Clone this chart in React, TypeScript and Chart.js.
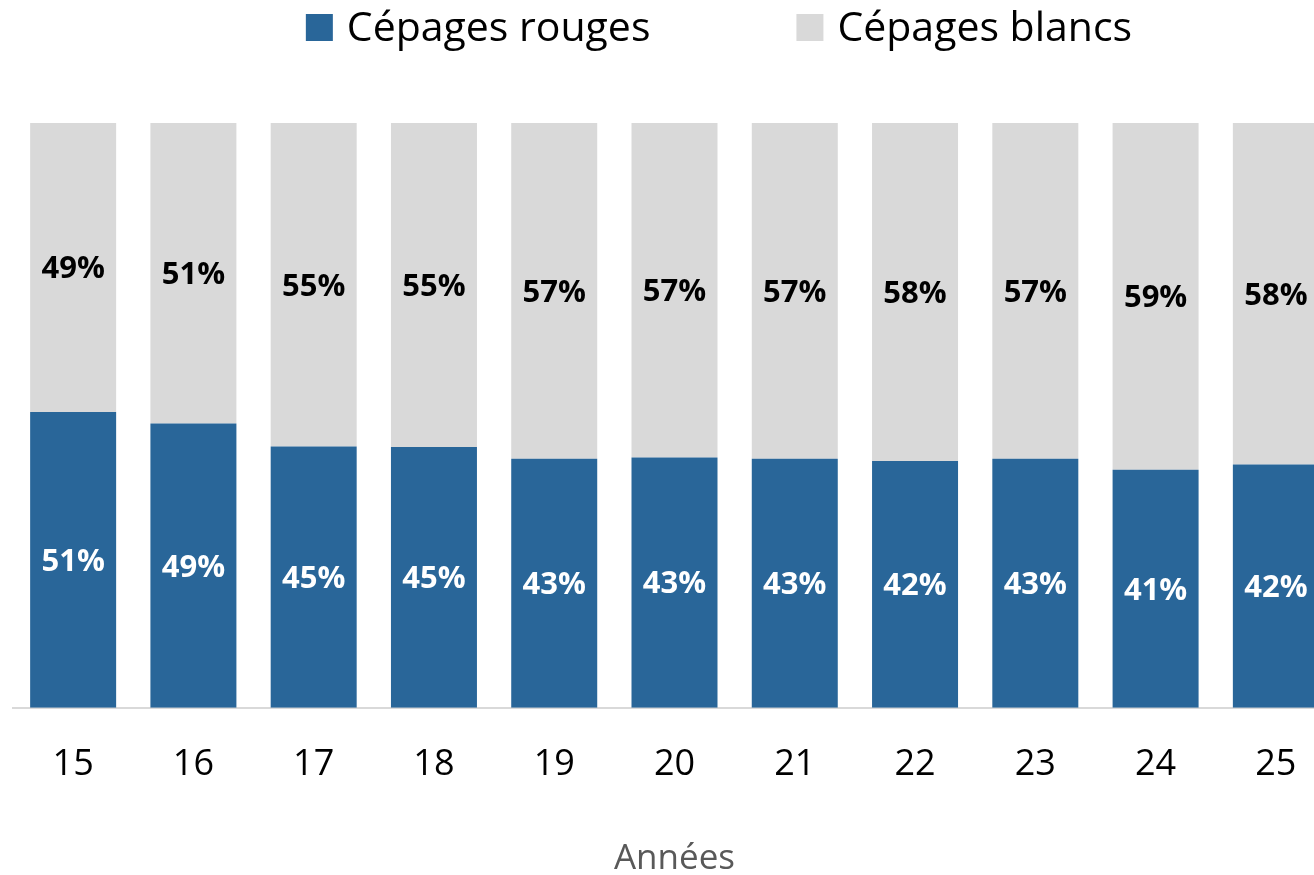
import React, { useEffect, useRef } from "react";
import { Chart, registerables } from "chart.js";

Chart.register(...registerables);

const years = ["15", "16", "17", "18", "19", "20", "21", "22", "23", "24", "25"];
const rouges = [50.6, 48.6, 44.7, 44.6, 42.6, 42.8, 42.6, 42.2, 42.6, 40.7, 41.6];
const blancs = [49.4, 51.4, 55.3, 55.4, 57.4, 57.2, 57.4, 57.8, 57.4, 59.3, 58.4];
const seriesNames = ["Cépages rouges", "Cépages blancs"];
const seriesColors = ["#296699", "#d9d9d9"];
const labelColors = ["#ffffff", "#000000"];
const axisTitle = "Années";

const FONT = "'Open Sans', 'Noto Sans', sans-serif";

const dataLabelsPlugin = {
  id: "dataLabels",
  afterDatasetsDraw(chart: any) {
    const ctx = chart.ctx;
    ctx.save();
    ctx.font = `bold 31px ${FONT}`;
    ctx.textAlign = "center";
    ctx.textBaseline = "middle";
    chart.data.datasets.forEach((ds: any, i: number) => {
      const meta = chart.getDatasetMeta(i);
      ctx.fillStyle = labelColors[i];
      meta.data.forEach((bar: any, j: number) => {
        const p = bar.getProps(["x", "y", "base"], true);
        const v = ds.data[j];
        ctx.fillText(Math.round(v) + "%", p.x, (p.y + p.base) / 2 + 2);
      });
    });
    ctx.restore();
  },
};

const legendPlugin = {
  id: "customLegend",
  afterDraw(chart: any) {
    const ctx = chart.ctx;
    ctx.save();
    ctx.font = `41px ${FONT}`;
    ctx.textBaseline = "middle";
    ctx.textAlign = "left";
    const box = 27;
    const boxToText = 14;
    const gap = 146;
    const items = chart.data.datasets.map((ds: any) => ({
      text: ds.label,
      color: ds.backgroundColor,
      w: ctx.measureText(ds.label).width,
    }));
    const total = items.reduce((s: number, it: any, k: number) => s + box + boxToText + it.w + (k > 0 ? gap : 0), 0);
    let x = 719 - total / 2;
    const boxMid = 27.5;
    const textMid = 29.5;
    items.forEach((it: any) => {
      ctx.fillStyle = it.color;
      ctx.fillRect(x, boxMid - box / 2, box, box);
      ctx.fillStyle = "#000000";
      ctx.fillText(it.text, x + box + boxToText, textMid);
      x += box + boxToText + it.w + gap;
    });
    ctx.restore();
  },
};

export default function App() {
  const ref = useRef<HTMLCanvasElement>(null);
  useEffect(() => {
    if (!ref.current) return;
    Chart.defaults.font.family = FONT;
    const chart = new Chart(ref.current, {
      type: "bar",
      data: {
        labels: years,
        datasets: [
          { label: seriesNames[0], data: rouges, backgroundColor: seriesColors[0], borderWidth: 0 },
          { label: seriesNames[1], data: blancs, backgroundColor: seriesColors[1], borderWidth: 0 },
        ],
      },
      options: {
        responsive: false,
        animation: false,
        events: [],
        layout: { padding: { top: 123, left: 13, right: 4, bottom: 0 } },
        datasets: { bar: { categoryPercentage: 1, barPercentage: 0.715 } },
        plugins: {
          legend: { display: false },
          tooltip: { enabled: false },
        },
        scales: {
          x: {
            stacked: true,
            grid: { display: false, drawTicks: false },
            border: { display: true, color: "#d9d9d9", width: 2 },
            ticks: { color: "#000000", font: { size: 36 }, padding: 35 },
            title: {
              display: true,
              text: axisTitle,
              color: "#595959",
              font: { size: 35 },
              padding: { top: 17, bottom: 0 },
            },
          },
          y: {
            stacked: true,
            display: false,
            min: 0,
            max: 100,
          },
        },
      },
      plugins: [dataLabelsPlugin, legendPlugin],
    });
    return () => chart.destroy();
  }, []);
  return (
    <div style={{ position: "fixed", left: 0, top: 0, width: 1314, height: 875, overflow: "hidden", background: "#fff" }}>
      <canvas ref={ref} width={1340} height={880} style={{ display: "block" }} />
    </div>
  );
}
